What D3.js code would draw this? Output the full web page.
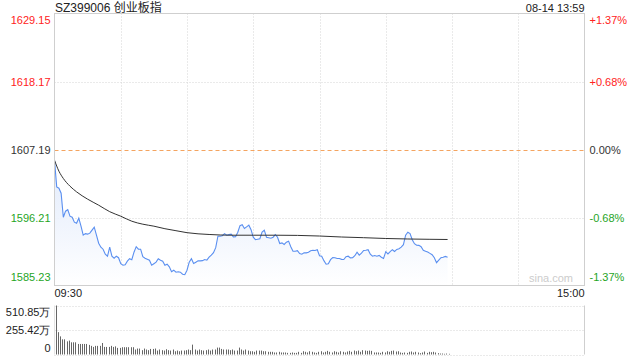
<!DOCTYPE html>
<html><head><meta charset="utf-8">
<script src="https://cdn.jsdelivr.net/npm/d3@7"></script>
<style>
html,body{margin:0;padding:0;background:#fff;}
svg{display:block;font-family:Arial,"Liberation Sans","Noto Sans CJK SC",sans-serif;}
</style></head>
<body><svg id="c" width="640" height="360"></svg>
<script>
const title = "SZ399006 创业板指";
const stamp = "08-14 13:59";
const prevClose = 1607.19;
const priceTicks = [1585.23, 1596.21, 1607.19, 1618.17, 1629.15];
const pctTicks = ["-1.37%", "-0.68%", "0.00%", "+0.68%", "+1.37%"];
const timeLabels = ["09:30", "15:00"];
const volTicks = [0, 255.42, 510.85];
const volTickLabels = ["0", "255.42万", "510.85万"];
const totalMinutes = 240;

// price per minute from 09:30
const price = [1605.46,1601.15,1600.94,1600.14,1596.26,1597.23,1597.47,1596.42,1596.26,1595.45,
1595.29,1596.10,1594.81,1593.35,1593.60,1593.52,1593.68,1594.16,1594.65,1593.35,
1592.06,1591.42,1591.09,1590.29,1589.96,1591.42,1589.96,1589.64,1589.96,1589.72,
1588.75,1588.51,1588.59,1589.16,1589.56,1589.40,1590.61,1591.50,1591.09,1591.09,
1589.88,1589.64,1589.48,1589.32,1588.51,1588.75,1589.00,1589.56,1589.32,1589.16,
1588.51,1588.67,1588.24,1587.46,1587.70,1587.38,1587.46,1587.38,1587.06,1586.98,
1587.70,1589.00,1589.56,1588.79,1589.00,1589.21,1589.21,1589.24,1589.43,1589.32,
1589.80,1590.13,1590.53,1591.34,1593.19,1593.19,1593.27,1593.60,1593.35,1593.44,
1593.52,1593.08,1593.11,1593.84,1594.89,1595.05,1594.44,1594.70,1594.97,1594.24,
1593.03,1592.63,1592.71,1592.79,1593.84,1594.16,1593.03,1592.95,1592.87,1593.03,
1593.44,1593.03,1592.01,1592.11,1591.85,1592.22,1592.39,1591.50,1590.77,1590.77,
1590.85,1590.40,1590.29,1590.50,1590.50,1590.61,1590.85,1590.93,1590.88,1591.01,
1590.04,1589.96,1589.24,1588.67,1588.75,1589.40,1589.75,1589.71,1589.59,1589.59,
1589.45,1589.43,1589.88,1589.96,1589.69,1589.72,1590.04,1590.61,1590.13,1590.45,
1590.88,1590.93,1591.01,1590.29,1589.96,1590.08,1589.96,1590.09,1589.80,1589.59,
1590.69,1590.32,1590.69,1591.01,1590.72,1591.05,1591.17,1591.42,1591.82,1593.35,
1593.84,1593.60,1592.63,1591.98,1591.74,1591.71,1591.50,1590.90,1590.77,1590.64,
1590.42,1590.21,1589.72,1588.91,1589.32,1589.72,1589.80,1589.92,1589.80];

// average price line, read at these minutes
const avgMinutes = [0,2,4,7,10,15,20,25,30,35,40,45,50,55,60,70,80,90,100,110,120,130,140,150,160,170,178];
const avgPrice = [1605.46,1603.69,1602.51,1601.27,1600.35,1599.17,1598.20,1597.15,1596.42,1595.61,1595.13,1594.81,1594.40,1594.08,1593.76,1593.47,1593.35,1593.35,1593.35,1593.32,1593.22,1593.06,1592.95,1592.82,1592.74,1592.69,1592.66];

// volume per minute (万)
const volume = [510.85,233,189,158,158,137,145,127,127,127,110,110,110,110,110,100,90,79,90,90,
90,120,79,79,79,90,79,85,69,69,76,76,76,76,76,76,52,62,62,45,
62,52,45,58,58,62,41,52,45,41,55,45,41,52,34,41,34,41,41,45,
52,45,103,52,41,52,45,41,45,52,41,52,52,72,72,58,52,52,52,45,
52,41,41,72,52,41,52,41,34,34,28,41,41,41,34,34,28,28,28,21,
21,28,21,21,21,17,17,21,17,17,28,17,34,28,21,34,28,21,17,28,
34,21,28,38,28,21,34,28,21,34,28,21,31,38,28,41,34,41,28,45,
41,38,41,38,21,21,21,17,28,21,34,28,38,41,31,34,21,17,21,17,
28,31,21,28,21,14,21,31,17,28,24,28,21,14,10,10,7,10,7];

const svg = d3.select("#c");
const L = 54.5, R = 584.5, T = 13.5, B = 285.5;
const VT = 305.5, VB = 354.5;
const x = d3.scaleLinear().domain([0, totalMinutes]).range([L, R]);
const y = d3.scaleLinear().domain([priceTicks[0], priceTicks[4]]).range([B, T]);
const vy = d3.scaleLinear().domain([0, volTicks[2]]).range([VB, VT]);

const red = "#f22", green = "#1fa51f", dark = "#333";
function labColor(v){ return v > prevClose + 1e-6 ? red : (v < prevClose - 1e-6 ? green : dark); }

// title
svg.append("text").attr("x", 55).attr("y", 12).attr("font-size", 12).attr("fill", "#222").text(title);
svg.append("text").attr("x", R).attr("y", 12).attr("text-anchor", "end").attr("font-size", 11).attr("fill", "#222").text(stamp);

// gradient
const defs = svg.append("defs");
const g = defs.append("linearGradient").attr("id", "ga").attr("x1", 0).attr("y1", 0).attr("x2", 0).attr("y2", 1);
g.append("stop").attr("offset", "0%").attr("stop-color", "#dfe9fb").attr("stop-opacity", 0.9);
g.append("stop").attr("offset", "100%").attr("stop-color", "#ffffff").attr("stop-opacity", 1);

// grid vertical
const vgrid = d3.range(1, 8).map(i => i * 30);
svg.append("g").selectAll("line").data(vgrid).join("line")
  .attr("x1", d => Math.round(x(d)) + 0.5).attr("x2", d => Math.round(x(d)) + 0.5)
  .attr("y1", T).attr("y2", B).attr("stroke", "#d4d4d4").attr("stroke-dasharray", "1,2");
// grid horizontal
svg.append("g").selectAll("line").data([priceTicks[1], priceTicks[3]]).join("line")
  .attr("x1", L).attr("x2", R).attr("y1", d => Math.round(y(d)) + 0.5).attr("y2", d => Math.round(y(d)) + 0.5)
  .attr("stroke", "#d4d4d4").attr("stroke-dasharray", "1,2");

// area + lines
const pts = price.map((v, i) => [i, v]);
svg.append("path").datum(pts)
  .attr("d", d3.area().x(d => x(d[0])).y0(B).y1(d => y(d[1])))
  .attr("fill", "url(#ga)");
// prev close dashed
svg.append("line").attr("x1", L).attr("x2", R).attr("y1", Math.round(y(prevClose)) + 0.5).attr("y2", Math.round(y(prevClose)) + 0.5)
  .attr("stroke", "#f4a460").attr("stroke-dasharray", "4,3");
svg.append("path").datum(pts)
  .attr("d", d3.line().x(d => x(d[0])).y(d => y(d[1])))
  .attr("fill", "none").attr("stroke", "#5a8ff0").attr("stroke-width", 1.1);
const avgPts = avgMinutes.map((m, i) => [m, avgPrice[i]]);
svg.append("path").datum(avgPts)
  .attr("d", d3.line().curve(d3.curveMonotoneX).x(d => x(d[0])).y(d => y(d[1])))
  .attr("fill", "none").attr("stroke", "#333").attr("stroke-width", 1);

// border
svg.append("rect").attr("x", L).attr("y", T).attr("width", R - L).attr("height", B - T)
  .attr("fill", "none").attr("stroke", "#cfcfcf");

// watermark
svg.append("text").attr("x", 573).attr("y", 282).attr("text-anchor", "end").attr("font-size", 11).attr("fill", "#ccc").text("sina.com");

// left axis
const leftAx = svg.append("g").attr("transform", `translate(${L},0)`)
  .call(d3.axisLeft(y).tickValues(priceTicks).tickSize(0).tickPadding(4).tickFormat(d3.format(".2f")));
leftAx.select(".domain").remove();
leftAx.selectAll("text").attr("font-size", 11).attr("font-family", null)
  .attr("fill", d => labColor(d))
  .attr("dy", (d, i) => i === 4 ? "0.95em" : (i === 0 ? "-0.45em" : "0.32em"));
// right axis
const rightAx = svg.append("g").attr("transform", `translate(${R},0)`)
  .call(d3.axisRight(y).tickValues(priceTicks).tickSize(0).tickPadding(5).tickFormat((d, i) => pctTicks[i]));
rightAx.select(".domain").remove();
rightAx.selectAll("text").attr("font-size", 11).attr("font-family", null)
  .attr("fill", d => labColor(d))
  .attr("dy", (d, i) => i === 4 ? "0.95em" : (i === 0 ? "-0.45em" : "0.32em"));

// time labels
svg.append("text").attr("x", L).attr("y", 297).attr("font-size", 11).attr("fill", "#222").text(timeLabels[0]);
svg.append("text").attr("x", R).attr("y", 297).attr("text-anchor", "end").attr("font-size", 11).attr("fill", "#222").text(timeLabels[1]);

// volume panel grid
svg.append("g").selectAll("line").data(volTicks).join("line")
  .attr("x1", L).attr("x2", R).attr("y1", d => Math.round(vy(d)) + 0.5).attr("y2", d => Math.round(vy(d)) + 0.5)
  .attr("stroke", "#d4d4d4").attr("stroke-dasharray", "1,2");
svg.append("line").attr("x1", R).attr("x2", R).attr("y1", VT).attr("y2", VB).attr("stroke", "#cfcfcf");
svg.append("line").attr("x1", L).attr("x2", L).attr("y1", VT).attr("y2", VB).attr("stroke", "#e4e4e4");
// volume bars
svg.append("g").selectAll("rect").data(volume).join("rect")
  .attr("x", (d, i) => Math.round(x(i)) + 1).attr("width", 1)
  .attr("y", d => vy(d)).attr("height", d => VB - vy(d))
  .attr("fill", "#666");
// volume axis
const volAx = svg.append("g").attr("transform", `translate(${L},0)`)
  .call(d3.axisLeft(vy).tickValues(volTicks).tickSize(0).tickPadding(4).tickFormat((d, i) => volTickLabels[i]));
volAx.select(".domain").remove();
volAx.selectAll("text").attr("font-size", 11).attr("font-family", null).attr("fill", "#222")
  .attr("dy", (d, i) => i === 2 ? "0.95em" : (i === 0 ? "-0.3em" : "0.32em"));
</script></body></html>
